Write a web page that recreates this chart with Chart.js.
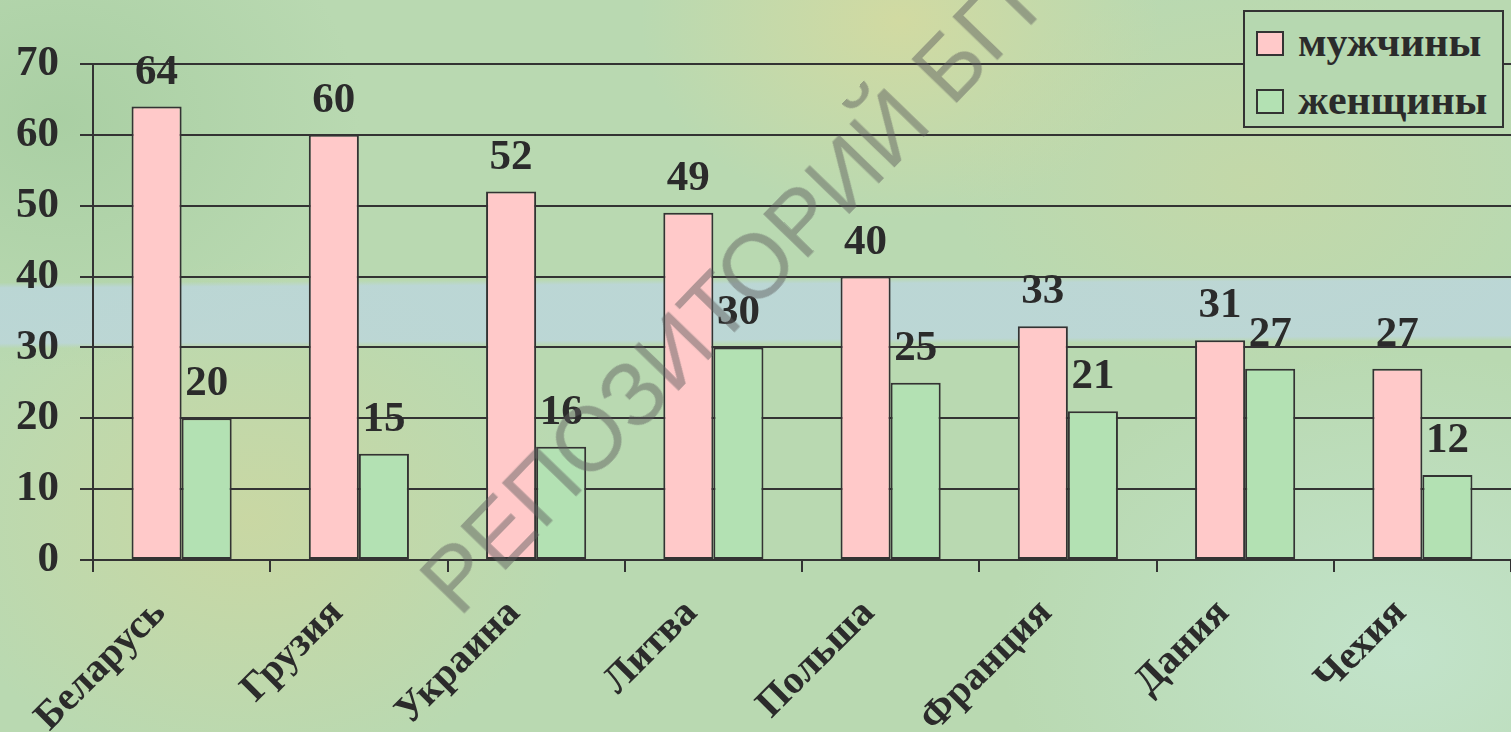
<!DOCTYPE html>
<html>
<head>
<meta charset="utf-8">
<script src="https://cdn.jsdelivr.net/npm/chart.js@4.4.1/dist/chart.umd.min.js"></script>
<style>
  html, body { margin:0; padding:0; width:1511px; height:732px; overflow:hidden; }
  body {
    position:relative;
    background:
      linear-gradient(179.7deg, rgba(0,0,0,0) 38.2%, rgba(188,214,222,.8) 38.9%, rgba(188,214,222,.8) 46.4%, rgba(0,0,0,0) 47.1%),
      radial-gradient(ellipse 260px 200px at 900px 20px, rgba(212,218,160,.9), rgba(212,218,160,0)),
      radial-gradient(ellipse 320px 260px at 250px 520px, rgba(205,215,160,.8), rgba(205,215,160,0)),
      radial-gradient(ellipse 300px 200px at 1250px 180px, rgba(205,215,160,.5), rgba(205,215,160,0)),
      radial-gradient(ellipse 400px 300px at 1400px 650px, rgba(195,228,205,.9), rgba(195,228,205,0)),
      radial-gradient(ellipse 300px 250px at 60px 120px, rgba(168,206,162,.9), rgba(168,206,162,0)),
      #b9d9b1;
  }
  #wrap { position:absolute; left:0; top:0; width:1511px; height:732px; }
  #mark {
    position:absolute; left:474px; top:530px;
    font: 90px "Liberation Sans", Arial, sans-serif;
    color: rgba(95,95,95,.48); white-space:nowrap;
    transform-origin: 0 100%; transform: rotate(-46deg);
    pointer-events:none;
  }
  #legend {
    position:absolute; left:1243px; top:10px; width:261px; height:118px;
    box-sizing:border-box; border:2px solid #333; background:#b6d8b0;
    font: bold 42px "Liberation Serif", "Times New Roman", serif; color:#2b2b2b;
  }
  #legend .row { position:absolute; left:11px; height:40px; line-height:40px; white-space:nowrap; }
  #legend .sw { display:inline-block; width:28px; height:25px; border:2px solid #333; box-sizing:border-box; vertical-align:middle; margin-right:14px; position:relative; top:-3px; }
</style>
</head>
<body>
<div id="wrap"><canvas id="c" width="1511" height="732"></canvas></div>
<div id="mark">РЕПОЗИТОРИЙ БГПУ</div>
<div id="legend"></div>
<script>
const categories = ['Беларусь', 'Грузия', 'Украина', 'Литва', 'Польша', 'Франция', 'Дания', 'Чехия'];
const men = [64, 60, 52, 49, 40, 33, 31, 27];
const women = [20, 15, 16, 30, 25, 21, 27, 12];
const seriesNames = ['мужчины', 'женщины'];
const colors = ['#ffc9c9', '#b3e1b3'];
const yMin = 0, yMax = 70, yStep = 10;

const FONT = '"Liberation Serif", "Times New Roman", serif';
const INK = '#2b2b2b';

/* values printed above each bar */
const valueLabels = {
  id: 'valueLabels',
  afterDatasetsDraw(chart){
    const ctx = chart.ctx;
    ctx.save();
    ctx.font = 'bold 43px ' + FONT;
    ctx.fillStyle = INK;
    ctx.textAlign = 'center';
    ctx.textBaseline = 'alphabetic';
    chart.data.datasets.forEach((ds, i) => {
      chart.getDatasetMeta(i).data.forEach((bar, j) => {
        ctx.fillText(String(ds.data[j]), bar.x, bar.y - 23);
      });
    });
    ctx.restore();
  }
};

const chart = new Chart(document.getElementById('c'), {
  type: 'bar',
  data: {
    labels: categories,
    datasets: [
      { label: seriesNames[0], data: men, backgroundColor: colors[0] },
      { label: seriesNames[1], data: women, backgroundColor: colors[1] },
    ].map(d => Object.assign(d, { borderColor: '#333', borderWidth: 2, borderSkipped: false,
      categoryPercentage: 0.565, barPercentage: 1 }))
  },
  options: {
    responsive: false,
    animation: false,
    layout: { padding: { top: 64, right: 0, left: 0, bottom: 0 } },
    plugins: { legend: { display: false }, tooltip: { enabled: false } },
    scales: {
      x: {
        grid: { drawOnChartArea: false, drawTicks: true, tickLength: 12, color: '#333', lineWidth: 2, offset: true },
        border: { color: '#333', width: 2 },
        ticks: { color: INK, font: { family: FONT, size: 40, weight: 'bold' }, minRotation: 45, maxRotation: 45,
          padding: 18, labelOffset: -22, autoSkip: false },
        afterFit(s){ s.height = 172; }
      },
      y: {
        min: yMin, max: yMax,
        grid: { color: '#333', lineWidth: 2, tickLength: 13 },
        border: { color: '#333', width: 2 },
        ticks: { stepSize: yStep, color: INK, font: { family: FONT, size: 43, weight: 'bold' }, padding: 21 },
        afterFit(s){ s.width = 93; }
      }
    }
  },
  plugins: [valueLabels]
});

/* legend box built from the datasets */
const lg = document.getElementById('legend');
chart.data.datasets.forEach((ds, i) => {
  const row = document.createElement('div');
  row.className = 'row';
  row.style.top = (10 + i * 58) + 'px';
  row.innerHTML = '<span class="sw" style="background:' + ds.backgroundColor + '"></span>' + ds.label;
  lg.appendChild(row);
});
</script>
</body>
</html>
